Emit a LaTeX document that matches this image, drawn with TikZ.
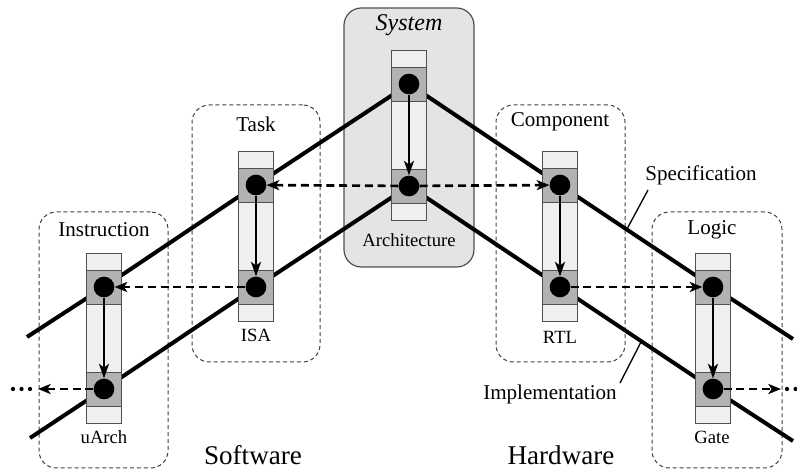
\documentclass[tikz,border=0pt]{standalone}
\usepackage{fontspec}
\setmainfont{Liberation Serif}
\usetikzlibrary{arrows.meta,fit,calc}
\pgfdeclarelayer{bg}
\pgfsetlayers{bg,main}
\definecolor{cellgray}{HTML}{B2B2B2}
\definecolor{striplight}{HTML}{EFEFEF}
\definecolor{sysfill}{HTML}{E4E4E4}
\definecolor{edgegray}{HTML}{505050}
\newcommand\levelcol[3]{%
  \fill[striplight] ({#2-17.5},#3) rectangle ({#2+17.5},{#3+170});
  \filldraw[cellgray,draw=edgegray,line width=0.7pt] ({#2-17.5},{#3+17}) rectangle ({#2+17.5},{#3+51});
  \filldraw[cellgray,draw=edgegray,line width=0.7pt] ({#2-17.5},{#3+119}) rectangle ({#2+17.5},{#3+153});
  \draw[edgegray,line width=0.7pt] ({#2-17.5},#3) rectangle ({#2+17.5},{#3+170});
  \node[dot] (#1a) at (#2,{#3+34}) {};
  \node[dot] (#1b) at (#2,{#3+136}) {};
}
\begin{document}
\begin{tikzpicture}[x=0.75pt,y=-0.75pt,
  dot/.style={circle,fill=black,inner sep=0pt,minimum size=15.5pt},
  dbox/.style={draw=black!75,line width=0.75pt,dash pattern=on 3pt off 2.2pt,rounded corners=13pt,inner sep=0pt},
  sysbox/.style={draw=edgegray,fill=sysfill,line width=0.9pt,rounded corners=13pt,inner sep=0pt},
  spec/.style={line width=3pt},
  harrow/.style={line width=2pt,dash pattern=on 6pt off 3.6pt,-{Stealth[length=9.5pt,width=7.5pt,inset=2.5pt]}},
  varrow/.style={line width=1.7pt,-{Stealth[length=11pt,width=7.5pt,inset=3pt]}},
  leader/.style={line width=1pt},
  ellip/.style={line width=3.2pt,line cap=round,dash pattern=on 0pt off 6.4pt},
  midlbl/.style={font=\fontsize{15.8}{18}\selectfont,inner sep=0pt},
  smalllbl/.style={font=\fontsize{14}{16}\selectfont,inner sep=0pt},
  syslbl/.style={font=\fontsize{18}{20}\selectfont\itshape,inner sep=0pt},
  biglbl/.style={font=\fontsize{20.3}{24}\selectfont,inner sep=0pt}]
\useasboundingbox (0,0) rectangle (797,470);

% columns (strips and dots)
\levelcol{s}{409}{50}
\levelcol{t}{256}{151}
\levelcol{i}{104}{253}
\levelcol{c}{560}{151}
\levelcol{l}{713}{253}

% free ends
\coordinate (specL) at (27,337);
\coordinate (implL) at (30,438);
\coordinate (specR) at (793,339);
\coordinate (implR) at (793,441);
\coordinate (arrL) at (38,389);
\coordinate (arrR) at (781,389);
\coordinate (ellLa) at (13,389);
\coordinate (ellLb) at (31,389);
\coordinate (ellRa) at (787,389);
\coordinate (ellRb) at (805,389);

\begin{pgfonlayer}{bg}
  \node[sysbox,fit={(344,8) (474,267)}] (sysbox) {};
  \node[dbox,fit={(39,212) (168,468)}] (instrbox) {};
  \node[dbox,fit={(192,105) (320,362)}] (taskbox) {};
  \node[dbox,fit={(496,105) (625,362)}] (compbox) {};
  \node[dbox,fit={(652,212) (782,468)}] (logicbox) {};
  \draw[spec] (specL) -- (ia.center) -- (ta.center) -- (sa.center) -- (ca.center) -- (la.center) -- (specR);
  \draw[spec] (implL) -- (ib.center) -- (tb.center) -- (sb.center) -- (cb.center) -- (lb.center) -- (implR);
\end{pgfonlayer}

% vertical refinement arrows
\foreach \n in {s,t,i,c,l} {\draw[varrow] (\n a) -- (\n b);}

% horizontal dashed arrows
\draw[harrow] (sb) -- (ta);
\draw[harrow] (sb) -- (ca);
\draw[harrow] (tb) -- (ia);
\draw[harrow] (cb) -- (la);
\draw[harrow] (ib) -- (arrL);
\draw[harrow] (lb) -- (arrR);
\draw[ellip] (ellLa) -- (ellLb);
\draw[ellip] (ellRa) -- (ellRb);

% labels
\node[syslbl] (systxt) at (409,25) {System};
\node[smalllbl] (archtxt) at (409,240) {Architecture};
\node[midlbl] (tasktxt) at (256,124) {Task};
\node[smalllbl] (isatxt) at (256,335) {ISA};
\node[midlbl] (instrtxt) at (104,230) {Instruction};
\node[smalllbl] (uarchtxt) at (104,437) {uArch};
\node[midlbl] (comptxt) at (560,122) {Component};
\node[smalllbl] (rtltxt) at (560,337) {RTL};
\node[midlbl] (logictxt) at (712,230) {Logic};
\node[smalllbl] (gatetxt) at (712,437) {Gate};
\node[midlbl] (spectxt) at (701,175) {Specification};
\node[midlbl] (impltxt) at (550,394) {Implementation};
\node[biglbl] (swtxt) at (253,455) {Software};
\node[biglbl] (hwtxt) at (561,455) {Hardware};

% leader lines
\coordinate (specpt) at (627,229);
\coordinate (implpt) at (641,342);
\draw[leader] (648,190) -- (specpt);
\draw[leader] (620,383) -- (implpt);
\end{tikzpicture}
\end{document}
